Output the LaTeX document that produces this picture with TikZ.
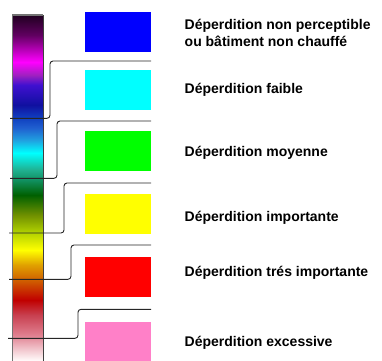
\documentclass[tikz,border=0pt]{standalone}
\usepackage{fontspec}
\setmainfont{Liberation Sans}
\definecolor{c00}{HTML}{FFF8F8}
\definecolor{c12}{HTML}{F0C0C8}
\definecolor{c25}{HTML}{E08090}
\definecolor{c45}{HTML}{C84050}
\definecolor{c60}{HTML}{C00000}
\definecolor{c80}{HTML}{D06000}
\definecolor{c95}{HTML}{E0A000}
\definecolor{c110}{HTML}{FFFF00}
\definecolor{c128}{HTML}{B0D000}
\definecolor{c145}{HTML}{709000}
\definecolor{c165}{HTML}{006000}
\definecolor{c180}{HTML}{109060}
\definecolor{c190}{HTML}{20B090}
\definecolor{c207}{HTML}{00FFFF}
\definecolor{c220}{HTML}{20A0E0}
\definecolor{c232}{HTML}{2060D0}
\definecolor{c242}{HTML}{1040C0}
\definecolor{c255}{HTML}{1010A0}
\definecolor{c275}{HTML}{4010D0}
\definecolor{c285}{HTML}{A020C0}
\definecolor{c298}{HTML}{FF00FF}
\definecolor{c325}{HTML}{600060}
\definecolor{c345}{HTML}{200020}
\definecolor{sblue}{RGB}{0,0,255}
\definecolor{scyan}{RGB}{0,255,255}
\definecolor{sgreen}{RGB}{0,255,0}
\definecolor{syellow}{RGB}{255,255,0}
\definecolor{sred}{RGB}{255,0,0}
\definecolor{spink}{RGB}{255,128,200}
\pgfdeclareverticalshading{thermo}{100bp}{
  color(0bp)=(c00);
  color(25bp)=(c00);
  color(26.74bp)=(c12);
  color(28.62bp)=(c25);
  color(31.52bp)=(c45);
  color(33.70bp)=(c60);
  color(36.59bp)=(c80);
  color(38.77bp)=(c95);
  color(40.94bp)=(c110);
  color(43.55bp)=(c128);
  color(46.01bp)=(c145);
  color(48.91bp)=(c165);
  color(51.09bp)=(c180);
  color(52.54bp)=(c190);
  color(55bp)=(c207);
  color(56.88bp)=(c220);
  color(58.62bp)=(c232);
  color(60.07bp)=(c242);
  color(61.96bp)=(c255);
  color(64.86bp)=(c275);
  color(66.30bp)=(c285);
  color(68.19bp)=(c298);
  color(72.10bp)=(c325);
  color(75bp)=(c345);
  color(100bp)=(c345)}
\begin{document}
\begin{tikzpicture}[x=1pt,y=-1pt,
  swatch/.style={fill=#1,draw=none},
  label/.style={anchor=base west,inner sep=0pt,align=left,
    font=\fontsize{14}{16.7}\selectfont\bfseries},
  conn/.style={draw=black!85,line width=0.9pt,rounded corners=3pt}]
\useasboundingbox (0,0) rectangle (382,360);
% colour bar
\shade[shading=thermo] (12.5,15) rectangle (43,360);
\draw[draw=black!55,line width=1.2pt] (12.5,361) -- (12.5,15) -- (43,15);
\draw[draw=black!75,line width=0.9pt] (43,15) -- (43,361);
% swatches
\fill[swatch=sblue]   (85,11.7)  rectangle (151,52.3);
\fill[swatch=scyan]   (85,70)    rectangle (151,110);
\fill[swatch=sgreen]  (85,131)   rectangle (151,171);
\fill[swatch=syellow] (85,194)   rectangle (151,234);
\fill[swatch=sred]    (85,256.7) rectangle (151,296.7);
\fill[swatch=spink]   (85,321.7) rectangle (151,361);
% labels
\node[label] (t1) at (184.5,46) {Déperdition non perceptible\\ou bâtiment non chauffé};
\node[label] (t2) at (184.5,93.3) {Déperdition faible};
\node[label] (t3) at (184.5,156.7) {Déperdition moyenne};
\node[label] (t4) at (184.5,221.7) {Déperdition importante};
\node[label] (t5) at (184.5,276.7) {Déperdition trés importante};
\node[label] (t6) at (184.5,346) {Déperdition excessive};
% connectors
\coordinate (a1) at (10,118.3);  \coordinate (k1) at (50,0);  \coordinate (b1) at (151,61);
\coordinate (a2) at (10,178.3);  \coordinate (k2) at (57,0);  \coordinate (b2) at (151,121);
\coordinate (a3) at (9,233);     \coordinate (k3) at (64,0);  \coordinate (b3) at (151,183);
\coordinate (a4) at (9,279.3);   \coordinate (k4) at (71,0);  \coordinate (b4) at (151,245);
\coordinate (a5) at (8,338.3);   \coordinate (k5) at (78,0);  \coordinate (b5) at (151,309.3);
\foreach \i in {1,...,5}{
  \draw[conn] (a\i) -- (a\i -| k\i) -- (k\i |- b\i) -- (b\i);
}
\end{tikzpicture}
\end{document}
